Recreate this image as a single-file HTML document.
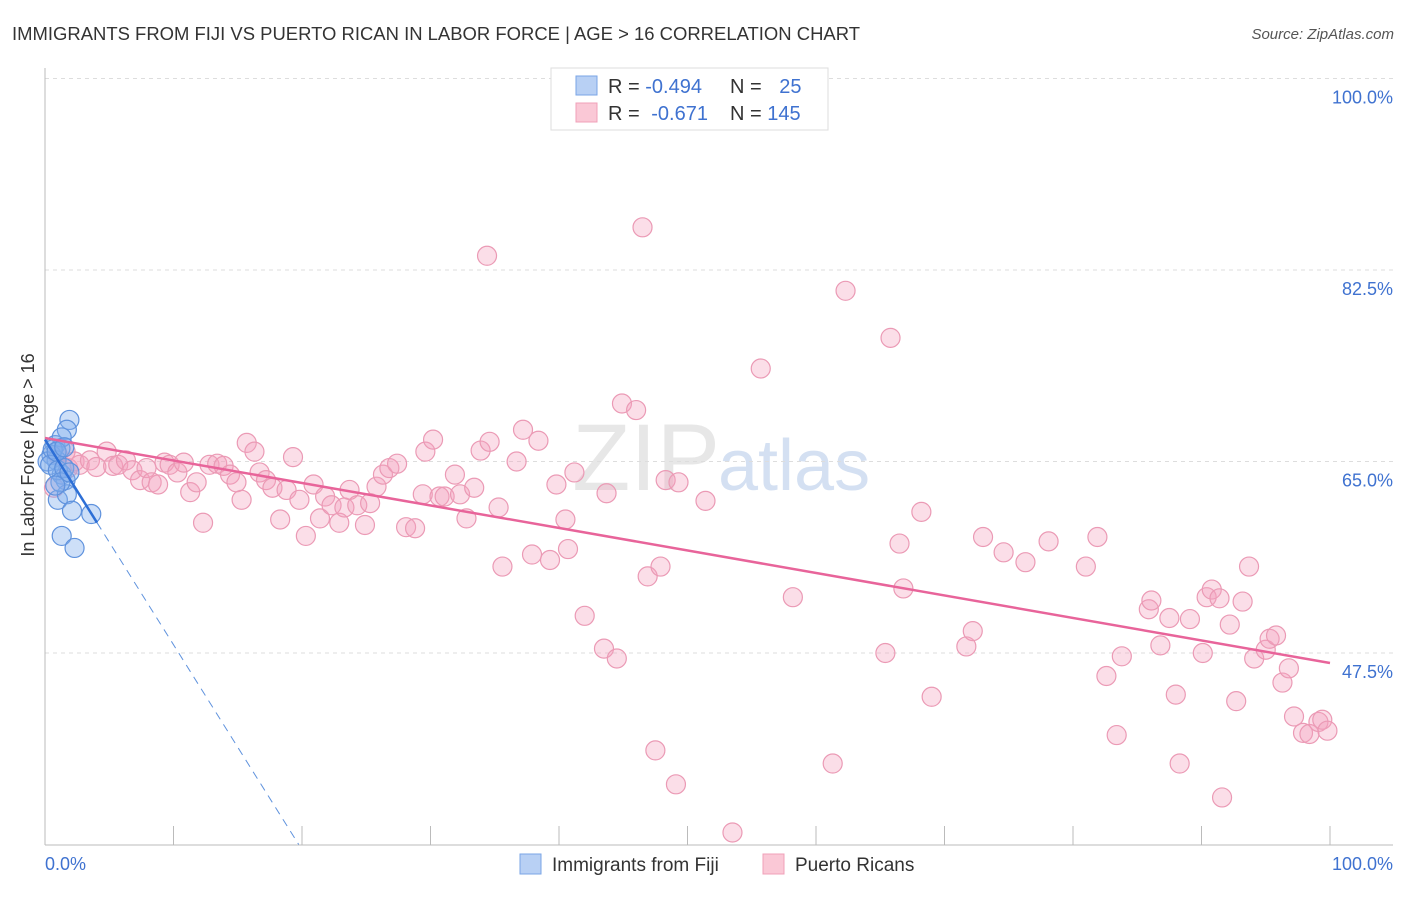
<!DOCTYPE html>
<html><head><meta charset="utf-8"><style>
body{margin:0;background:#fff;font-family:"Liberation Sans",sans-serif}
svg text{font-family:"Liberation Sans",sans-serif}
</style></head><body>
<svg id="c" width="1406" height="892" xmlns="http://www.w3.org/2000/svg">
<text x="12" y="40" font-size="18" fill="#333" textLength="848" lengthAdjust="spacingAndGlyphs">IMMIGRANTS FROM FIJI VS PUERTO RICAN IN LABOR FORCE | AGE &gt; 16 CORRELATION CHART</text>
<text x="1394" y="39" font-size="15" fill="#555" text-anchor="end" font-style="italic">Source: ZipAtlas.com</text>
<text x="720" y="490" font-size="95" fill="#d8d8d8" text-anchor="end" font-family="Liberation Serif" opacity="0.6">ZIP</text>
<text x="718" y="490" font-size="72" fill="#b9cdea" opacity="0.6">atlas</text>
<text transform="translate(34,455) rotate(-90)" font-size="18" fill="#333" text-anchor="middle">In Labor Force | Age &gt; 16</text>
<g id="grid"></g><g id="pts"></g><g id="lines"></g>
<g>
<rect x="551" y="68" width="277" height="62" fill="#fff" stroke="#ddd"/>
<rect x="576" y="76" width="21" height="19" fill="#b8d0f4" stroke="#7aa5e6"/>
<rect x="576" y="103" width="21" height="19" fill="#fac8d6" stroke="#f0a0b8"/>
<text x="608" y="93" font-size="20" fill="#333">R = <tspan fill="#3f72d0">-0.494</tspan></text>
<text x="730" y="93" font-size="20" fill="#333">N = <tspan fill="#3f72d0" dx="12">25</tspan></text>
<text x="608" y="120" font-size="20" fill="#333">R = <tspan fill="#3f72d0" dx="6">-0.671</tspan></text>
<text x="730" y="120" font-size="20" fill="#333">N = <tspan fill="#3f72d0">145</tspan></text>
</g>
<g>
<rect x="520" y="854" width="21" height="20" fill="#b8d0f4" stroke="#7aa5e6"/>
<text x="552" y="871" font-size="19" fill="#333">Immigrants from Fiji</text>
<rect x="763" y="854" width="21" height="20" fill="#fac8d6" stroke="#f0a0b8"/>
<text x="795" y="871" font-size="19" fill="#333">Puerto Ricans</text>
</g>
</svg>
<script>
const yTicks=[100,82.5,65,47.5];
const yTickLabels=["100.0%","82.5%","65.0%","47.5%"];
const xTickLabels=["0.0%","100.0%"];
const fijiX=[0.8,1.2,0.5,0.9,1.3,1.0,1.6,1.9,1.7,1.3,1.7,2.1,1.3,2.3,3.6,0.2,0.6,0.4,1.0,1.5,1.2,1.9,0.9,1.5,0.8];
const fijiY=[66.5,66.2,65.6,65.1,63.8,61.5,63.3,68.8,67.9,67.2,62.0,60.5,58.2,57.1,60.2,65.0,66.1,64.7,64.2,64.4,63.1,64.0,65.9,66.3,62.8];
const prX=[0.7,1.0,1.6,1.8,2.3,2.7,3.5,4.0,4.8,5.3,5.7,6.3,6.8,7.4,7.9,8.3,8.8,9.3,9.7,10.3,10.8,11.3,11.8,12.3,12.8,13.4,13.9,14.4,14.9,15.3,15.7,16.3,16.7,17.2,17.7,18.3,18.8,19.3,19.8,20.3,20.9,21.4,21.8,22.3,22.9,23.3,23.7,24.3,24.9,25.3,25.8,26.3,26.8,27.4,28.1,28.8,29.4,29.6,30.2,30.7,31.1,31.9,32.3,32.8,33.4,33.9,34.4,34.6,35.3,35.6,36.7,37.2,37.9,38.4,39.3,39.8,40.5,40.7,41.2,42.0,43.7,43.5,44.5,44.9,46.0,46.5,46.9,47.5,47.9,48.3,49.1,49.3,51.4,53.5,55.7,58.2,61.3,62.3,65.4,65.8,66.5,66.8,68.2,69.0,71.7,72.2,73.0,74.6,76.3,78.1,81.0,81.9,82.6,83.4,83.8,85.9,86.1,86.8,87.5,88.0,88.3,89.1,90.1,90.4,90.8,91.4,91.6,92.2,92.7,93.2,93.7,94.1,95.0,95.3,95.8,96.3,96.8,97.2,97.9,98.4,99.1,99.4,99.8];
const prY=[62.6,65.6,65.9,64.4,65.0,64.7,65.1,64.5,65.9,64.6,64.7,65.1,64.2,63.3,64.4,63.1,62.9,64.9,64.7,64.0,64.9,62.2,63.1,59.4,64.7,64.8,64.6,63.8,63.1,61.5,66.7,65.9,64.0,63.3,62.6,59.7,62.4,65.4,61.5,58.2,62.9,59.8,61.8,61.0,59.4,60.8,62.4,61.0,59.2,61.2,62.7,63.8,64.4,64.8,59.0,58.9,62.0,65.9,67.0,61.8,61.8,63.8,62.0,59.8,62.6,66.0,83.8,66.8,60.8,55.4,65.0,67.9,56.5,66.9,56.0,62.9,59.7,57.0,64.0,50.9,62.1,47.9,47.0,70.3,69.7,86.4,54.5,38.6,55.4,63.3,35.5,63.1,61.4,31.1,73.5,52.6,37.4,80.6,47.5,76.3,57.5,53.4,60.4,43.5,48.1,49.5,58.1,56.7,55.8,57.7,55.4,58.1,45.4,40.0,47.2,51.5,52.3,48.2,50.7,43.7,37.4,50.6,47.5,52.6,53.3,52.5,34.3,50.1,43.1,52.2,55.4,47.0,47.8,48.8,49.1,44.8,46.1,41.7,40.2,40.1,41.2,41.4,40.4];
const prTrend=[67.15,46.59];
const fijiTrend=[67.0,-1.874];
const fijiSolidEnd=4.05;
const NS="http://www.w3.org/2000/svg";
const X=v=>45+v*12.85, Y=v=>78.5+(100-v)*10.943;
function mk(t,a,p){const e=document.createElementNS(NS,t);for(const k in a)e.setAttribute(k,a[k]);p.appendChild(e);return e;}
const grid=document.getElementById('grid');
yTicks.forEach((t,i)=>{
 const l=mk('line',{x1:45,x2:1393,y1:Y(t),y2:Y(t),stroke:'#ddd','stroke-dasharray':'4,4'},grid);
 
 
 const tx=mk('text',{x:1393,y:Y(t)+25,'font-size':18,fill:'#3f72d0','text-anchor':'end'},grid);
 tx.textContent=yTickLabels[i];
 
 
});
const ax=mk('line',{x1:45,x2:45,y1:68,y2:845,stroke:'#bbb'},grid);


const bx=mk('line',{x1:45,x2:1393,y1:845,y2:845,stroke:'#bbb'},grid);


for(let i=1;i<=10;i++){const t=mk('line',{x1:X(i*10),x2:X(i*10),y1:826,y2:845,stroke:'#bbb'},grid);
 
 }
[[0,'start',45],[100,'end',1393]].forEach((d,i)=>{const t=mk('text',{x:d[2],y:870,'font-size':18,fill:'#3f72d0','text-anchor':d[1]},grid);t.textContent=xTickLabels[i];
 
 });
const pts=document.getElementById('pts');
prX.forEach((x,i)=>{const c=mk('circle',{cx:X(x),cy:Y(prY[i]),r:9.5,fill:'rgba(243,160,188,0.35)',stroke:'#eb9ab5','stroke-width':1.2},pts);
 
 });
fijiX.forEach((x,i)=>{const c=mk('circle',{cx:X(x),cy:Y(fijiY[i]),r:9.5,fill:'rgba(130,175,238,0.4)',stroke:'#5f92dd','stroke-width':1.2},pts);
 
 });
const lines=document.getElementById('lines');
const pl=mk('line',{x1:X(0),y1:Y(prTrend[0]),x2:X(100),y2:Y(prTrend[1]),stroke:'#e8649a','stroke-width':2.5},lines);


const fy=x=>fijiTrend[0]+fijiTrend[1]*x;
const fl=mk('line',{x1:X(0),y1:Y(fy(0)),x2:X(fijiSolidEnd),y2:Y(fy(fijiSolidEnd)),stroke:'#2d6fd6','stroke-width':2.5},lines);


const xEnd=(fijiTrend[0]-30)/(-fijiTrend[1]);
const fd=mk('line',{x1:X(fijiSolidEnd),y1:Y(fy(fijiSolidEnd)),x2:X(xEnd),y2:Y(30),stroke:'#5f92dd','stroke-width':1,'stroke-dasharray':'8,6'},lines);


</script>
</body></html>
